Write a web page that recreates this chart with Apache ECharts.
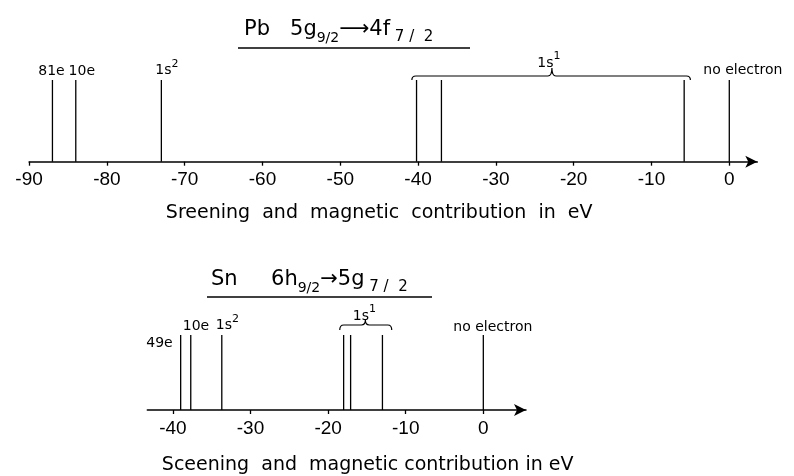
<!DOCTYPE html>
<html><head><meta charset="utf-8">
<script src="https://cdn.jsdelivr.net/npm/echarts@6/dist/echarts.min.js"></script>
<style>html,body{margin:0;padding:0;background:#fff}#c{width:794px;height:476px}</style>
</head><body><div id="c"></div>
<script>
// ---- Pb 5g9/2 -> 4f7/2 ----
const pbLineValues = [-87.0, -84.0, -73.0, -40.2, -37.0, -5.8, 0];
const pbLineLabels = ['81e', '10e', '1s{sup|2}', '', '', '', 'no electron'];
const pbBrace = [-40.8, -5.0, -22.8];          // start, end, tip (eV)
const pbBraceLabel = '1s{sup|1}';
const pbTicks = [-90, -80, -70, -60, -50, -40, -30, -20, -10, 0];
const pbAxisName = 'Sreening  and  magnetic  contribution  in  eV';

// ---- Sn 6h9/2 -> 5g7/2 ----
const snLineValues = [-39.0, -37.7, -33.7, -18.0, -17.1, -13.0, 0];
const snLineLabels = ['49e', '10e', '1s{sup|2}', '', '', '', 'no electron'];
const snBrace = [-18.5, -11.8, -15.2];
const snBraceLabel = '1s{sup|1}';
const snTicks = [-40, -30, -20, -10, 0];
const snAxisName = 'Sceening  and  magnetic contribution in eV';

// ---- label placement (styling) ----
const pbLabelPos = [
  {dx: -1, dy: -9, align: 'center'}, {dx: 6, dy: -9, align: 'center'},
  {dx: -6, dy: -9.5, align: 'left'}, null, null, null,
  {dx: -26, dy: -9.5, align: 'left'}
];
const snLabelPos = [
  {dx: -8, dy: 8, align: 'right'}, {dx: -8, dy: -8.5, align: 'left'},
  {dx: -6, dy: -9.5, align: 'left'}, null, null, null,
  {dx: -30, dy: -7.5, align: 'left'}
];
const pbBraceGeom = {yh: -4, ye: 0, yt: -12, ly: -17, ldx: -3};
const snBraceGeom = {yh: -10, ye: -5, yt: -15, ly: -19, ldx: -1};

const LFONT = 'DejaVu Sans';
const FONT = 'Liberation Sans';
const richSup = {
  sup: {fontSize: 11, fontFamily: LFONT, verticalAlign: 'top', lineHeight: 11, fill: '#000'}
};

function textEl(text, x, y, align) {
  return {
    type: 'text',
    style: {
      text: text, x: x, y: y,
      align: align, textAlign: align,
      verticalAlign: 'middle', textVerticalAlign: 'middle',
      fontSize: 14, fontFamily: LFONT, lineHeight: 24, fill: '#000',
      rich: richSup
    }
  };
}

function lineSeries(idx, values, labels, pos) {
  return {
    type: 'custom', xAxisIndex: idx, yAxisIndex: idx, clip: false,
    data: values.map((v, i) => [v, 1, i]),
    renderItem: function (params, api) {
      const x = api.value(0), i = api.value(2);
      const p0 = api.coord([x, 0]), p1 = api.coord([x, api.value(1)]);
      const children = [{
        type: 'line',
        shape: {x1: p0[0], y1: p0[1], x2: p1[0], y2: p1[1]},
        style: {stroke: '#000', lineWidth: 1.3}
      }];
      if (labels[i]) {
        const o = pos[i];
        children.push(textEl(labels[i], p1[0] + o.dx, p1[1] + o.dy, o.align));
      }
      return {type: 'group', children: children};
    }
  };
}

function braceSeries(idx, brace, label, g) {
  return {
    type: 'custom', xAxisIndex: idx, yAxisIndex: idx, clip: false,
    data: [[brace[0], brace[1], brace[2], 1]],
    renderItem: function (params, api) {
      const xl = api.coord([api.value(0), 1])[0];
      const xr = api.coord([api.value(1), 1])[0];
      const pt = api.coord([api.value(2), api.value(3)]);
      const xt = pt[0], base = pt[1];
      const yh = base + g.yh, ye = base + g.ye, yt = base + g.yt;
      const r = 4;
      const d = 'M' + xl + ' ' + ye + ' Q' + xl + ' ' + yh + ' ' + (xl + r) + ' ' + yh +
        ' L' + (xt - r) + ' ' + yh + ' Q' + xt + ' ' + yh + ' ' + xt + ' ' + yt +
        ' Q' + xt + ' ' + yh + ' ' + (xt + r) + ' ' + yh +
        ' L' + (xr - r) + ' ' + yh + ' Q' + xr + ' ' + yh + ' ' + xr + ' ' + ye;
      return {
        type: 'group',
        children: [
          {type: 'path', shape: {pathData: d}, style: {stroke: '#000', fill: null, lineWidth: 1.2}},
          textEl(label, xt + g.ldx, base + g.ly, 'center')
        ]
      };
    }
  };
}

function xAxisCfg(idx, min, max, ticks, name, namePad, nameGap, nameSize) {
  return {
    gridIndex: idx, type: 'value', min: min, max: max,
    axisLine: {show: true, onZero: false, symbol: ['none', 'arrow'], symbolSize: [9, 12],
      lineStyle: {color: '#000', width: 1.5}},
    axisTick: {show: true, customValues: ticks, length: 4, lineStyle: {color: '#000', width: 1.3}},
    axisLabel: {customValues: ticks, color: '#000', fontSize: 19, fontFamily: FONT, margin: 9},
    splitLine: {show: false},
    name: name, nameLocation: 'middle', nameGap: nameGap,
    nameTextStyle: {color: '#000', fontSize: nameSize, fontFamily: 'DejaVu Sans', padding: namePad}
  };
}

const titleRich = {
  m: {fontSize: 21, fontFamily: 'DejaVu Sans', fontWeight: 'normal', lineHeight: 30, color: '#000'},
  s: {fontSize: 14, fontFamily: 'DejaVu Sans', fontWeight: 'normal', lineHeight: 14, verticalAlign: 'bottom', color: '#000'},
  t: {fontSize: 15, fontFamily: 'DejaVu Sans', fontWeight: 'normal', lineHeight: 14, verticalAlign: 'bottom', color: '#000'}
};

const chart = echarts.init(document.getElementById('c'), null, {renderer: 'canvas'});
chart.setOption({
  animation: false,
  backgroundColor: '#fff',
  title: [
    {text: '{m|Pb   5g}{s|9/2}{m|⟶4f}{t| 7 /  2}', left: 239, top: 10,
      textStyle: {fontWeight: 'normal', rich: titleRich}},
    {text: '{m|Sn     6h}{s|9/2}{m|→5g}{t| 7 /  2}', left: 206, top: 260,
      textStyle: {fontWeight: 'normal', rich: titleRich}}
  ],
  graphic: [
    {type: 'line', shape: {x1: 238, y1: 48, x2: 470, y2: 48}, style: {stroke: '#000', lineWidth: 1.5}},
    {type: 'line', shape: {x1: 207, y1: 297, x2: 432, y2: 297}, style: {stroke: '#000', lineWidth: 1.5}}
  ],
  grid: [
    {left: 29.1, width: 728.2, top: 80, height: 81.7},
    {left: 147.3, width: 378.7, top: 335, height: 76}
  ],
  xAxis: [
    xAxisCfg(0, -90, 3.6, pbTicks, pbAxisName, [0, 28, 0, 0], 42, 19),
    xAxisCfg(1, -43.3, 5.5, snTicks, snAxisName, [0, 0, 0, 62], 46, 19)
  ],
  yAxis: [
    {gridIndex: 0, type: 'value', min: 0, max: 1, show: false},
    {gridIndex: 1, type: 'value', min: 0, max: 1, show: false}
  ],
  series: [
    lineSeries(0, pbLineValues, pbLineLabels, pbLabelPos),
    braceSeries(0, pbBrace, pbBraceLabel, pbBraceGeom),
    lineSeries(1, snLineValues, snLineLabels, snLabelPos),
    braceSeries(1, snBrace, snBraceLabel, snBraceGeom)
  ]
});
</script>
</body></html>
